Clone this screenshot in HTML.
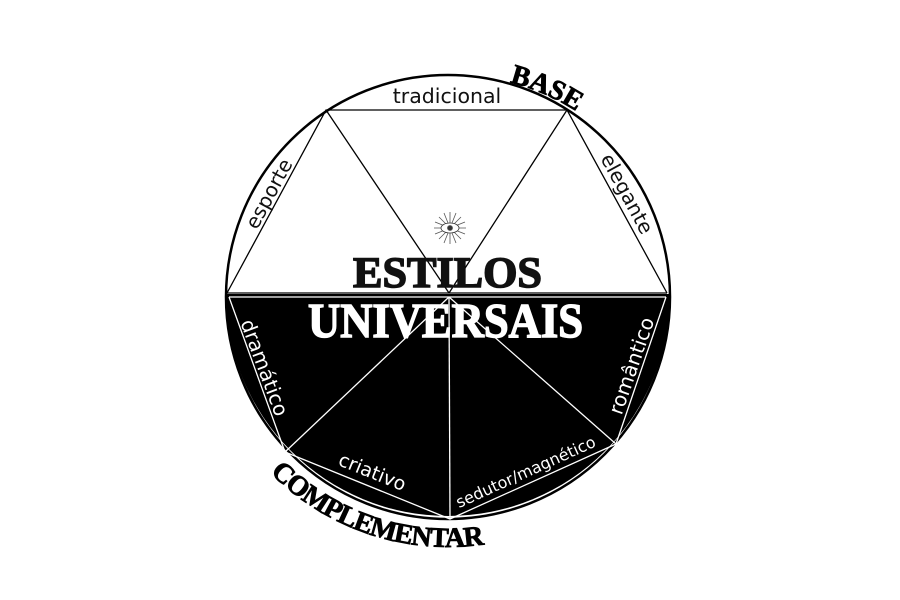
<!DOCTYPE html>
<html><head><meta charset="utf-8"><style>
html,body{margin:0;padding:0;background:#fff;}
svg{display:block;}
.s{font-family:"DejaVu Sans","Liberation Sans",sans-serif;font-weight:normal;}
.b{font-family:"Liberation Serif",serif;font-weight:bold;}
</style></head><body>
<svg width="900" height="600" viewBox="0 0 900 600">
<defs>
<path id="pb" d="M509.6,82.4 A228,228 0 0 1 632.4,162.0"/>
<path id="pc" d="M270.2,472.7 A250,250 0 0 0 512.7,538.5"/>
</defs>
<rect width="900" height="600" fill="#fff"/>
<path d="M226,294 A222,222 0 0 0 670,294 Z" fill="#000"/>
<circle cx="448" cy="297" r="222" fill="none" stroke="#000" stroke-width="2.5"/>
<g stroke="#000" stroke-width="1.3" fill="none">
<polyline points="227,293 326,110 567,110 667,293"/>
<line x1="326" y1="110" x2="449" y2="293"/>
<line x1="567" y1="110" x2="449" y2="293"/>
<line x1="227" y1="293" x2="667" y2="293"/>
</g>
<g stroke="#fff" stroke-width="1.3" fill="none">
<polyline points="229,297 285,452 450,519 616,444 666,297"/>
<line x1="449" y1="297" x2="285" y2="452"/>
<line x1="449" y1="297" x2="450" y2="519"/>
<line x1="449" y1="297" x2="616" y2="444"/>
<line x1="229" y1="297" x2="666" y2="297"/>
</g>
<g stroke="#555" stroke-width="0.8" fill="none">
<g transform="translate(450,228)">
<line x1="-16" y1="0" x2="16" y2="0"/><line x1="0" y1="-16" x2="0" y2="16"/>
<line x1="-11" y1="-11" x2="11" y2="11"/><line x1="-11" y1="11" x2="11" y2="-11"/>
<line x1="-15" y1="-6" x2="15" y2="6"/><line x1="-15" y1="6" x2="15" y2="-6"/>
<line x1="-6" y1="-15" x2="6" y2="15"/><line x1="6" y1="-15" x2="-6" y2="15"/>
<ellipse cx="0" cy="0" rx="9" ry="5" fill="#fff" stroke="#333"/>
<circle cx="0" cy="0" r="2.5" fill="#333"/>
</g></g>
<text class="b" x="353" y="287" style="font-size:43px" textLength="189" lengthAdjust="spacingAndGlyphs" fill="#111" stroke="#111" stroke-width="1.5">ESTILOS</text>
<text class="b" x="308" y="337" style="font-size:49px" textLength="275" lengthAdjust="spacingAndGlyphs" fill="#fff" stroke="#fff" stroke-width="1.5">UNIVERSAIS</text>
<text class="s" x="447" y="103" text-anchor="middle" fill="#111" style="font-size:20.5px">tradicional</text>
<text class="s" transform="translate(275,197) rotate(-61.6)" text-anchor="middle" fill="#111" style="font-size:20px">esporte</text>
<text class="s" transform="translate(621,197) rotate(61.6)" text-anchor="middle" fill="#111" style="font-size:20px">elegante</text>
<text class="s" transform="translate(258,370) rotate(69.5)" text-anchor="middle" fill="#fff" style="font-size:20px">dramático</text>
<text class="s" transform="translate(638,368) rotate(-70.9)" text-anchor="middle" fill="#fff" style="font-size:20px">romântico</text>
<text class="s" transform="translate(370,478) rotate(22)" text-anchor="middle" fill="#fff" style="font-size:19px">criativo</text>
<text class="s" transform="translate(528,477) rotate(-24.3)" text-anchor="middle" fill="#fff" style="font-size:16px">sedutor/magnético</text>
<text class="b" style="font-size:28px" fill="#000" stroke="#000" stroke-width="0.8"><textPath href="#pb">BASE</textPath></text>
<text class="b" style="font-size:28px" fill="#000" stroke="#000" stroke-width="0.8" letter-spacing="-1"><textPath href="#pc">COMPLEMENTAR</textPath></text>
</svg>
</body></html>
